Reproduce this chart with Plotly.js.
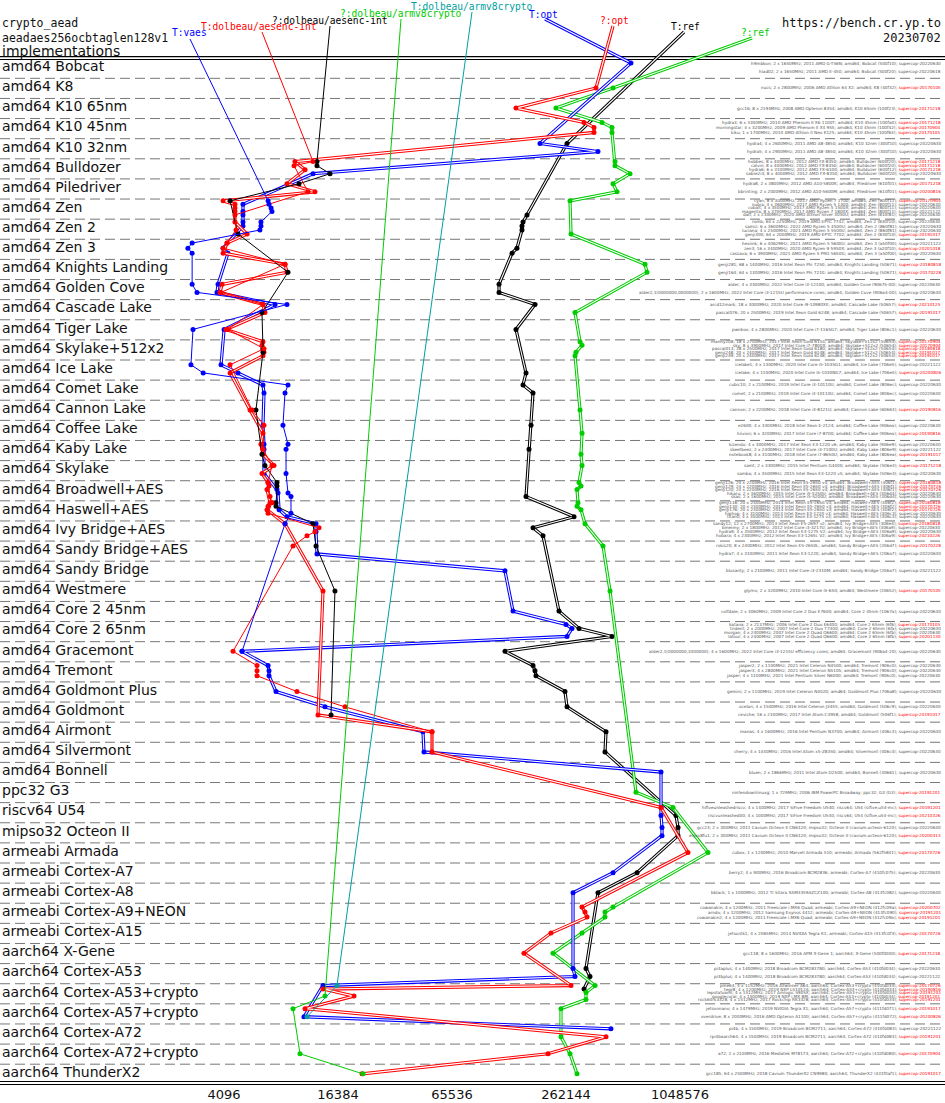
<!DOCTYPE html>
<html><head><meta charset="utf-8">
<script src="https://cdn.plot.ly/plotly-3.0.1.min.js"></script>
<style>html,body{margin:0;padding:0;background:#fff}#chart{width:945px;height:1103px}</style>
</head><body><div id="chart"></div>
<script>
// ---------------- data ----------------
const CATEGORIES = ["amd64 Bobcat","amd64 K8","amd64 K10 65nm","amd64 K10 45nm","amd64 K10 32nm","amd64 Bulldozer","amd64 Piledriver","amd64 Zen","amd64 Zen 2","amd64 Zen 3","amd64 Knights Landing","amd64 Golden Cove","amd64 Cascade Lake","amd64 Tiger Lake","amd64 Skylake+512x2","amd64 Ice Lake","amd64 Comet Lake","amd64 Cannon Lake","amd64 Coffee Lake","amd64 Kaby Lake","amd64 Skylake","amd64 Broadwell+AES","amd64 Haswell+AES","amd64 Ivy Bridge+AES","amd64 Sandy Bridge+AES","amd64 Sandy Bridge","amd64 Westmere","amd64 Core 2 45nm","amd64 Core 2 65nm","amd64 Gracemont","amd64 Tremont","amd64 Goldmont Plus","amd64 Goldmont","amd64 Airmont","amd64 Silvermont","amd64 Bonnell","ppc32 G3","riscv64 U54","mipso32 Octeon II","armeabi Armada","armeabi Cortex-A7","armeabi Cortex-A8","armeabi Cortex-A9+NEON","armeabi Cortex-A15","aarch64 X-Gene","aarch64 Cortex-A53","aarch64 Cortex-A53+crypto","aarch64 Cortex-A57+crypto","aarch64 Cortex-A72","aarch64 Cortex-A72+crypto","aarch64 ThunderX2"];

const MACHINE_COUNTS = [2,1,1,3,2,4,2,5,4,3, 2,2,2,1,5,2,2,1,2,3, 2,5,5,4,2,1,1,1,4,1, 3,1,2,1,1,1,1,2,2,1, 1,1,3,1,1,2,5,2,2,1, 1];

const MACHINE_LABELS = [
"h9mbkon; 2 x 1650MHz; 2011 AMD G-T56N; amd64; Bobcat (500f10); supercop-20220630",
"hiad02; 2 x 1650MHz; 2011 AMD E-450; amd64; Bobcat (500f20); supercop-20220618",
"nucs; 2 x 2800MHz; 2006 AMD Athlon 64 X2; amd64; K8 (40f32); supercop-20170105",
"gcc16; 8 x 2194MHz; 2008 AMD Opteron 8354; amd64; K10 65nm (100f23); supercop-20171218",
"hydra3; 6 x 3300MHz; 2010 AMD Phenom II X6 1100T; amd64; K10 45nm (100fa0); supercop-20171218",
"morningstar; 4 x 3200MHz; 2009 AMD Phenom II X4 955; amd64; K10 45nm (100f42); supercop-20170904",
"kiku; 1 x 1700MHz; 2010 AMD Athlon II Neo K125; amd64; K10 45nm (100f63); supercop-20170105",
"hydra4; 4 x 2600MHz; 2011 AMD A8-3850; amd64; K10 32nm (300f10); supercop-20220630",
"hydra5; 4 x 2900MHz; 2011 AMD A8-3850; amd64; K10 32nm (300f10); supercop-20220630",
"hobbes; 8 x 4000MHz; 2012 AMD FX-8350; amd64; Bulldozer (600f20); supercop-20171218",
"calvin; 8 x 4000MHz; 2012 AMD FX-8350; amd64; Bulldozer (600f20); supercop-20171218",
"hydra6; 6 x 3100MHz; 2012 AMD FX-6100; amd64; Bulldozer (600f12); supercop-20171218",
"sabre2i4; 8 x 4000MHz; 2012 AMD FX-8350; amd64; Bulldozer (600f20); supercop-20220630",
"hydra8; 2 x 3800MHz; 2012 AMD A10-5800K; amd64; Piledriver (610f01); supercop-20171218",
"bbrinting; 2 x 2000MHz; 2012 AMD A10-5600M; amd64; Piledriver (610f01); supercop-20200816",
"cyan; 8 x 3000MHz; 2017 AMD Ryzen 7 1700; amd64; Zen (800f11); supercop-20170904",
"nubia; 4 x 3600MHz; 2017 AMD Ryzen 5 1400; amd64; Zen (800f11); supercop-20220630",
"cobalt; 4 x 3500MHz; 2017 AMD Ryzen 5 1500X; amd64; Zen (800f11); supercop-20220630",
"magenta; 8 x 3700MHz; 2017 AMD Ryzen 7 1800X; amd64; Zen (800f11); supercop-20221122",
"dali; 2 x 2300MHz; 2020 AMD Athlon Silver 3050U; amd64; Zen (810f81); supercop-20220630",
"romb; 64 x 2250MHz; 2019 AMD EPYC 7742; amd64; Zen 2 (830f10); supercop-20220630",
"samiz; 6 x 3600MHz; 2022 AMD Ryzen 5 4500U; amd64; Zen 2 (860f81); supercop-20220630",
"luciana; 4 x 2500MHz; 2021 AMD Ryzen 5 5500U; amd64; Zen 2 (860f81); supercop-20220630",
"genji300; 64 x 2000MHz; 2019 AMD EPYC 7702; amd64; Zen 2 (830f10); supercop-20191017",
"hexiink; 6 x 4062MHz; 2021 AMD Ryzen 5 5600U; amd64; Zen 3 (a50f00); supercop-20221122",
"zen3; 16 x 3400MHz; 2020 AMD Ryzen 9 5950X; amd64; Zen 3 (a20f10); supercop-20201018",
"cassava; 6 x 3900MHz; 2021 AMD Ryzen 5 PRO 5650G; amd64; Zen 3 (a50f00); supercop-20220630",
"genji281; 68 x 1400MHz; 2016 Intel Xeon Phi 7250; amd64; Knights Landing (50671); supercop-20180818",
"genji164; 64 x 1300MHz; 2016 Intel Xeon Phi 7210; amd64; Knights Landing (50671); supercop-20170228",
"alder; 4 x 3300MHz; 2022 Intel Core i3-12100; amd64; Golden Cove (90675-00); supercop-20220630",
"alder2,1(0000000,0000000); 2 x 1600MHz; 2022 Intel Core i3-1215U performance cores; amd64; Golden Cove (906a4-00); supercop-20220630",
"arcd12mark; 18 x 3000MHz; 2020 Intel Core i9-10980XE; amd64; Cascade Lake (50657); supercop-20210125",
"pascal076; 20 x 2500MHz; 2019 Intel Xeon Gold 6248; amd64; Cascade Lake (50657); supercop-20191017",
"pwnbox; 4 x 2800MHz; 2020 Intel Core i7-1165G7; amd64; Tiger Lake (806c1); supercop-20220630",
"manny208; 18 x 2700MHz; 2017 Intel Xeon Gold 6154; amd64; Skylake+512x2 (50654); supercop-20170904",
"sky; 8 x 3900MHz; 2017 Intel Core i7-7800X; amd64; Skylake+512x2 (50654); supercop-20170904",
"pascal013; 28 x 2500MHz; 2017 Intel Xeon Gold 6180; amd64; Skylake+512x2 (50654); supercop-20180818",
"genji248; 20 x 2400MHz; 2017 Intel Xeon Gold 6148; amd64; Skylake+512x2 (50654); supercop-20191017",
"genji249; 20 x 2400MHz; 2017 Intel Xeon Gold 6148; amd64; Skylake+512x2 (50654); supercop-20191017",
"icelake1; 4 x 1300MHz; 2020 Intel Core i5-1035G1; amd64; Ice Lake (706e5); supercop-20221122",
"icelake; 4 x 1100MHz; 2020 Intel Core i5-1030NG7; amd64; Ice Lake (706e5); supercop-20200826",
"cubic10; 2 x 2100MHz; 2019 Intel Core i3-10110U; amd64; Comet Lake (806ec); supercop-20220630",
"comet; 2 x 2100MHz; 2019 Intel Core i3-10110U; amd64; Comet Lake (806ec); supercop-20220630",
"cannon; 2 x 2200MHz; 2018 Intel Core i3-8121U; amd64; Cannon Lake (60663); supercop-20190816",
"e2600; 4 x 3300MHz; 2018 Intel Xeon E-2124; amd64; Coffee Lake (906ea); supercop-20220630",
"hiivion; 6 x 3200MHz; 2017 Intel Core i7-8700; amd64; Coffee Lake (906ea); supercop-20190816",
"kizendo; 4 x 3000MHz; 2017 Intel Xeon E3-1220 v6; amd64; Kaby Lake (906e9); supercop-20220630",
"skeetbeez; 2 x 2400MHz; 2017 Intel Core i3-7100U; amd64; Kaby Lake (806e9); supercop-20221122",
"notebook8; 4 x 3100MHz; 2018 Intel Core i7-8650U; amd64; Kaby Lake (806ea); supercop-20191017",
"samt; 2 x 3300MHz; 2015 Intel Pentium G4400; amd64; Skylake (506e3); supercop-20171218",
"samba; 4 x 3500MHz; 2015 Intel Xeon E3-1220 v5; amd64; Skylake (506e3); supercop-20220630",
"genji126; 24 x 2200MHz; 2016 Intel Xeon E5-2650 v4; amd64; Broadwell+AES (406f1); supercop-20180818",
"genji129; 24 x 2200MHz; 2016 Intel Xeon E5-2650 v4; amd64; Broadwell+AES (406f1); supercop-20170726",
"genji120; 24 x 2200MHz; 2016 Intel Xeon E5-2650 v4; amd64; Broadwell+AES (406f1); supercop-20170726",
"hikaru; 2 x 1600MHz; 2015 Intel Core i5-5250U; amd64; Broadwell+AES (306d4); supercop-20220630",
"skas; 2 x 1600MHz; 2015 Intel Core i5-5200U; amd64; Broadwell+AES (306d4); supercop-20220630",
"genji116; 20 x 2300MHz; 2014 Intel Xeon E5-2650 v3; amd64; Haswell+AES (306f2); supercop-20180818",
"genji130; 20 x 2300MHz; 2014 Intel Xeon E5-2650 v3; amd64; Haswell+AES (306f2); supercop-20170726",
"genji176; 20 x 2300MHz; 2014 Intel Xeon E5-2650 v3; amd64; Haswell+AES (306f2); supercop-20170726",
"hiphop; 4 x 3100MHz; 2013 Intel Xeon E3-1220 v3; amd64; Haswell+AES (306c3); supercop-20220630",
"titan0; 4 x 3500MHz; 2013 Intel Xeon E3-1275 v3; amd64; Haswell+AES (306c3); supercop-20220630",
"sandy12; 12 x 2700MHz; 2013 Intel Xeon E5-2697 v2; amd64; Ivy Bridge+AES (306e4); supercop-20180818",
"bmeimy; 2 x 1800MHz; 2012 Intel Core i3-3217U; amd64; Ivy Bridge+AES (306a9); supercop-20220630",
"hydra9; 4 x 3500MHz; 2012 Intel Xeon E3-1275 V2; amd64; Ivy Bridge+AES (306a9); supercop-20220630",
"hobara; 4 x 2300MHz; 2012 Intel Xeon E3-1265L V2; amd64; Ivy Bridge+AES (306a9); supercop-20210226",
"rokis20; 8 x 2400MHz; 2012 Intel Xeon E5-2650L; amd64; Sandy Bridge+AES (206d7); supercop-20170228",
"hydra7; 4 x 3100MHz; 2011 Intel Xeon E3-1220; amd64; Sandy Bridge+AES (206a7); supercop-20220630",
"blusanty; 2 x 2100MHz; 2011 Intel Core i3-2310M; amd64; Sandy Bridge (206a7); supercop-20221122",
"glymo; 2 x 3200MHz; 2010 Intel Core i5-650; amd64; Westmere (20652); supercop-20170105",
"colfdale; 2 x 3060MHz; 2009 Intel Core 2 Duo E7600; amd64; Core 2 45nm (1067a); supercop-20220630",
"katana; 2 x 2137MHz; 2006 Intel Core 2 Duo E6400; amd64; Core 2 65nm (6f6); supercop-20170105",
"trident; 2 x 2000MHz; 2007 Intel Core 2 Duo T7300; amd64; Core 2 65nm (6fa); supercop-20220630",
"morgan; 4 x 2400MHz; 2007 Intel Core 2 Quad Q6600; amd64; Core 2 65nm (6fb); supercop-20220630",
"latour; 4 x 2400MHz; 2007 Intel Core 2 Quad Q6600; amd64; Core 2 65nm (6fb); supercop-20201130",
"alder2,1(0000000,3300000); 4 x 1600MHz; 2022 Intel Core i3-1215U efficiency cores; amd64; Gracemont (906a4-20); supercop-20220630",
"jasper2; 2 x 1100MHz; 2021 Intel Celeron N4500; amd64; Tremont (906c0); supercop-20220630",
"jasper3; 4 x 2800MHz; 2021 Intel Celeron N5105; amd64; Tremont (906c0); supercop-20220630",
"jasper; 4 x 1100MHz; 2021 Intel Pentium Silver N6000; amd64; Tremont (906c0); supercop-20220630",
"gemini; 2 x 1100MHz; 2019 Intel Celeron N4020; amd64; Goldmont Plus (706a8); supercop-20220630",
"ocelan; 4 x 1500MHz; 2016 Intel Celeron J3455; amd64; Goldmont (506c9); supercop-20220630",
"ceviche; 16 x 2100MHz; 2017 Intel Atom C3958; amd64; Goldmont (506f1); supercop-20191017",
"manas; 4 x 1600MHz; 2016 Intel Pentium N3700; amd64; Airmont (406c3); supercop-20220630",
"cherry; 4 x 1440MHz; 2016 Intel Atom x5-Z8350; amd64; Silvermont (406c4); supercop-20220630",
"bluen; 2 x 1866MHz; 2011 Intel Atom D2500; amd64; Bonnell (30661); supercop-20220630",
"nintendowiilinuxg; 1 x 729MHz; 2006 IBM PowerPC Broadway; ppc32; G3 (G3); supercop-20191201",
"hifiveunleashedriscv; 4 x 1400MHz; 2017 SiFive Freedom U540; riscv64; U54 (sifive,u54-mc); supercop-20191201",
"riscvunleashed00; 4 x 1000MHz; 2017 SiFive Freedom U540; riscv64; U54 (sifive,u54-mc); supercop-20210326",
"gcc23; 2 x 300MHz; 2011 Cavium Octeon II CN6120; mipso32; Octeon II (cavium,octeon-6120); supercop-20220630",
"erpro8fu1; 2 x 300MHz; 2011 Cavium Octeon II CN6120; mipso32; Octeon II (cavium,octeon-6120); supercop-20200313",
"cubox; 1 x 1200MHz; 2010 Marvell Armada 510; armeabi; Armada (562f5841); supercop-20170726",
"berry2; 4 x 900MHz; 2016 Broadcom BCM2836; armeabi; Cortex-A7 (410fc075); supercop-20220630",
"bblack; 1 x 1000MHz; 2012 TI Sitara XAM3359AZCZ100; armeabi; Cortex-A8 (413fc082); supercop-20220630",
"cowanakin; 4 x 1200MHz; 2011 Freescale i.MX6 Quad; armeabi; Cortex-A9+NEON (412fc09a); supercop-20200702",
"arndo; 4 x 1200MHz; 2012 Samsung Exynos 4412; armeabi; Cortex-A9+NEON (413fc090); supercop-20191201",
"cowanakin2; 4 x 1200MHz; 2011 Freescale i.MX6 Quad; armeabi; Cortex-A9+NEON (412fc09a); supercop-20191201",
"jetsontk1; 4 x 2065MHz; 2014 NVIDIA Tegra K1; armeabi; Cortex-A15 (413fc0f3); supercop-20170726",
"gcc118; 8 x 1600MHz; 2016 APM X-Gene 1; aarch64; X-Gene (500f0000); supercop-20171218",
"pi3aplus; 4 x 1400MHz; 2018 Broadcom BCM2837B0; aarch64; Cortex-A53 (410fd034); supercop-20220630",
"pi3bplus; 4 x 1400MHz; 2018 Broadcom BCM2837B0; aarch64; Cortex-A53 (410fd034); supercop-20221122",
"pine64; 4 x 1152MHz; 2016 Allwinner A64; aarch64; Cortex-A53+crypto (410fd034); supercop-20170726",
"tegr8; 4 x 1200MHz; 2019 NXP LS1012A; aarch64; Cortex-A53+crypto (410fd034); supercop-20190816",
"lepotatoaml; 4 x 1512MHz; 2017 Amlogic S905X; aarch64; Cortex-A53+crypto (410fd034); supercop-20191201",
"googlecoral; 4 x 1500MHz; 2019 NXP i.MX 8M; aarch64; Cortex-A53+crypto (410fd034); supercop-20191201",
"rock64rk3328; 4 x 1512MHz; 2017 Rockchip RK3328; aarch64; Cortex-A53+crypto (410fd034); supercop-20191201",
"jetsonnano; 4 x 1479MHz; 2019 NVIDIA Tegra X1; aarch64; Cortex-A57+crypto (411fd071); supercop-20191017",
"overdrive; 8 x 2000MHz; 2016 AMD Opteron A1100; aarch64; Cortex-A57+crypto (411fd072); supercop-20200826",
"pi4b; 4 x 1500MHz; 2019 Broadcom BCM2711; aarch64; Cortex-A72 (410fd083); supercop-20221122",
"rpi4baarch64; 4 x 1500MHz; 2019 Broadcom BCM2711; aarch64; Cortex-A72 (410fd083); supercop-20191201",
"a72; 2 x 2100MHz; 2016 Mediatek MT8173; aarch64; Cortex-A72+crypto (410fd080); supercop-20170904",
"gcc185; 64 x 2500MHz; 2018 Cavium ThunderX2 CN9980; aarch64; ThunderX2 (431f0af1); supercop-20191017"
];

// series: [machine index, cycles]
const T_REF = [[7,265400],[19,163200],[20,155400],[21,153500],[22,153500],[25,144400],[26,136000],[29,116100],[30,116100],[31,179800],[33,142700],[40,161200],[41,155400],[42,175500],[44,171300],[47,167200],[55,161200],[60,289000],[62,175500],[64,198200],[69,240700],[71,307000],[73,458600],[74,124800],[75,175500],[76,179800],[77,182000],[78,258900],[79,265400],[81,426400],[82,421100],[86,998900],[87,1023600],[88,1023600],[90,621700],[91,386700],[97,334300],[98,350900],[100,326300]];
const Q_REF = [[2,464400],[3,232100],[4,406200],[5,458600],[6,458600],[9,475800],[10,475800],[12,571000],[13,464400],[14,487400],[15,275200],[23,278600],[27,685200],[28,702000],[32,292500],[34,310900],[35,318500],[37,296000],[38,292500],[43,310900],[45,318500],[48,314600],[49,318500],[51,307000],[52,314600],[53,299700],[56,303400],[57,299700],[58,314600],[61,330200],[65,411100],[68,447700],[84,614000],[85,962900],[89,1473700],[92,464400],[93,421100],[94,421100],[95,318500],[96,223800],[99,373000],[101,334300],[103,334300],[104,246600],[107,246600],[108,275200],[109,299700]];
const T_OPT = [[0,577600],[7,191100],[8,386700],[12,12090],[16,5160],[18,5160],[19,5160],[20,5160],[21,5160],[25,4050],[26,4300],[29,3810],[30,3760],[31,7620],[33,4100],[39,3950],[40,4860],[41,6580],[42,6660],[44,6580],[46,6660],[47,6660],[50,6660],[53,7800],[54,7900],[58,8000],[60,8810],[61,12540],[63,12540],[66,12690],[67,124800],[69,137600],[70,262100],[71,282000],[73,265400],[74,5100],[75,7000],[76,7080],[77,7080],[78,7710],[79,13990],[81,46050],[82,46610],[83,832400],[85,832400],[86,832400],[87,842400],[88,842400],[90,464400],[91,285500],[97,285500],[98,292500],[99,13650],[105,10840],[106,452900]];
const Q_OPT = [[2,377500],[3,142700],[4,326300],[5,368500],[6,368500],[9,9710],[11,10970],[13,8810],[14,12380],[15,4050],[16,4680],[17,4680],[18,4680],[20,4680],[23,5420],[24,4250],[26,4050],[27,8600],[28,8810],[29,4000],[30,3900],[31,6580],[32,6740],[33,4200],[34,6580],[35,6500],[36,6580],[37,6660],[38,6580],[40,4410],[43,5620],[45,6580],[46,6420],[48,6580],[49,7520],[50,6500],[51,7000],[52,7080],[53,6910],[56,7170],[57,7000],[58,6910],[61,8600],[68,13650],[80,12850],[81,51390],[82,51390],[85,832400],[89,1155500],[92,318500],[93,330200],[94,338400],[95,218400],[96,157300],[99,278600],[100,13650],[102,19910],[104,10970],[107,426400],[108,210600],[109,21940]];
const T_DOLBEAU_AESENC = [[9,12090],[10,9600],[14,11380],[19,4680],[22,4740],[24,4250],[25,4050],[27,8600],[30,3950],[31,6580],[33,4300],[36,6660],[39,4410],[43,5760],[44,6660],[47,6580],[49,7340],[51,7000],[55,7170],[56,7340],[59,7000],[62,13010],[63,12380],[64,11240],[65,9480],[74,4570],[75,6120],[76,6120],[77,6120],[78,9950],[79,17840],[81,51390],[82,51390]];
const Q_DOLBEAU_AESENC = [[9,12690],[10,12690],[12,14870],[13,10200],[15,4410],[23,4860],[28,8920],[32,6500],[36,6580],[37,6580],[43,6040],[48,6500],[49,6740],[51,7800],[52,7800],[56,7710],[57,7710],[61,12090],[65,12540],[68,15790],[80,15050]];
const T_VAES = [[15,7000],[16,7080],[17,7260],[18,7340],[20,6420],[21,6420],[22,6340],[24,2780],[25,2640],[26,2780],[29,2780],[30,2950],[31,8810],[33,2810],[39,2740],[40,3180],[41,8920],[42,8600],[44,8390],[46,8920],[47,8710],[50,8710],[54,8920],[55,9250],[59,9250],[61,8600],[74,5100]];
const Q_DOLBEAU_ARMV8 = [[102,13990],[104,9480],[108,10320],[109,22210]];
const T_DOLBEAU_ARMV8 = [[99,16180],[105,11240]];

const X_TICKS = [4096,16384,65536,262144,1048576];
const X_TICK_LABELS = ["4096","16384","65536","262144","1048576"];

// ---------------- layout helpers ----------------
const W = 945, H = 1103, MB = 18, PH = H - MB;
const ROW_TOP = 58.2, ROW_H = 20.12;
function pxToY(p){ return (p - ROW_TOP) / ROW_H; }
function pxToX(p){ return 4096 * Math.pow(2, (p - 224) / 57); }

const machineY = [];
MACHINE_COUNTS.forEach((n, r) => {
  for (let j = 0; j < n; j++) {
    const f = n === 1 ? 0.48 : 0.44 + (j/(n-1) - 0.5) * Math.min(0.7, 0.3 + 0.1*(n-1));
    machineY.push(r + f);
  }
});

const SERIES = [
  {name:"T:ref", data:T_REF, color:"#000000", dbl:true, lab:[685,26], anc:[684,32]},
  {name:"?:ref", data:Q_REF, color:"#00cc00", dbl:true, lab:[755,32], anc:[752,38]},
  {name:"T:opt", data:T_OPT, color:"#0000ff", dbl:true, lab:[543,14], anc:[545,19]},
  {name:"?:opt", data:Q_OPT, color:"#ff0000", dbl:true, lab:[614,20], anc:[613,26]},
  {name:"?:dolbeau/aesenc-int", data:Q_DOLBEAU_AESENC, color:"#000000", dbl:false, lab:[330,20], anc:[330,26]},
  {name:"T:dolbeau/aesenc-int", data:T_DOLBEAU_AESENC, color:"#ff0000", dbl:false, lab:[259,26], anc:[262,32]},
  {name:"T:vaes", data:T_VAES, color:"#0000ff", dbl:false, lab:[189,32], anc:[190,39]},
  {name:"?:dolbeau/armv8crypto", data:Q_DOLBEAU_ARMV8, color:"#00cc00", dbl:false, lab:[401,13], anc:[401,19]},
  {name:"T:dolbeau/armv8crypto", data:T_DOLBEAU_ARMV8, color:"#00a0a0", dbl:false, lab:[472,6], anc:[472,12]}
];

const traces = [];
const annotations = [];
const MONO = "DejaVu Sans Mono", SANS = "DejaVu Sans";

SERIES.forEach(s => {
  const pts = s.data.slice().sort((a,b)=>a[0]-b[0]);
  const xs = pts.map(p=>p[1]), ys = pts.map(p=>machineY[p[0]]);
  const cx = [pxToX(s.anc[0]), xs[0]], cy = [pxToY(s.anc[1]), ys[0]];
  if (s.dbl) {
    traces.push({x:cx, y:cy, mode:"lines", line:{color:s.color, width:3.2}, hoverinfo:"skip"});
    traces.push({x:xs, y:ys, mode:"lines", line:{color:s.color, width:3.2}, hoverinfo:"skip"});
    traces.push({x:cx, y:cy, mode:"lines", line:{color:"#ffffff", width:1.1}, hoverinfo:"skip"});
    traces.push({x:xs, y:ys, mode:"lines", line:{color:"#ffffff", width:1.1}, hoverinfo:"skip"});
  } else {
    traces.push({x:cx, y:cy, mode:"lines", line:{color:s.color, width:1}, hoverinfo:"skip"});
    traces.push({x:xs, y:ys, mode:"lines", line:{color:s.color, width:1}, hoverinfo:"skip"});
  }
  traces.push({x:xs, y:ys, mode:"markers", marker:{color:s.color, size:5}, hoverinfo:"skip"});
  annotations.push({x:Math.log10(pxToX(s.lab[0])), y:pxToY(s.lab[1]), xref:"x", yref:"y", text:s.name, showarrow:false,
    xanchor:"center", yanchor:"middle", font:{family:MONO, size:9.6, color:s.color}});
});

// category labels
CATEGORIES.forEach((c, r) => {
  annotations.push({x:0, xref:"paper", y:r + 0.39, yref:"y", text:c, showarrow:false, xanchor:"left", yanchor:"middle",
    font:{family:SANS, size:14, color:"#111"}});
});

// machine labels
MACHINE_LABELS.forEach((t, i) => {
  const k = t.lastIndexOf("; ");
  const head = t.slice(0, k + 2), ver = t.slice(k + 2);
  const vcol = /2022/.test(ver) ? "#555" : "#ff0000";
  annotations.push({x:0.998, xref:"paper", y:machineY[i], yref:"y", showarrow:false, xanchor:"right", yanchor:"middle",
    text: head + '<span style="color:' + vcol + '">' + ver + '</span>', font:{family:SANS, size:4.2, color:"#555"}});
});

// header texts
annotations.push({x:0, xref:"paper", y:pxToY(23), yref:"y", text:"crypto_aead", showarrow:false, xanchor:"left", yanchor:"middle", font:{family:MONO, size:11.5, color:"#111"}});
annotations.push({x:0, xref:"paper", y:pxToY(38), yref:"y", text:"aeadaes256ocbtaglen128v1", showarrow:false, xanchor:"left", yanchor:"middle", font:{family:MONO, size:11.5, color:"#111"}});
annotations.push({x:0, xref:"paper", y:pxToY(50.5), yref:"y", text:"implementations", showarrow:false, xanchor:"left", yanchor:"middle", font:{family:SANS, size:14, color:"#111"}});
annotations.push({x:0.998, xref:"paper", y:pxToY(23), yref:"y", text:"https://bench.cr.yp.to", showarrow:false, xanchor:"right", yanchor:"middle", font:{family:MONO, size:12, color:"#111"}});
annotations.push({x:0.998, xref:"paper", y:pxToY(38), yref:"y", text:"20230702", showarrow:false, xanchor:"right", yanchor:"middle", font:{family:MONO, size:12, color:"#111"}});
annotations.push({x:0, xref:"paper", y:pxToY(1093), yref:"y", text:"Time", showarrow:false, xanchor:"left", yanchor:"middle", font:{family:SANS, size:14, color:"#111"}});

// shapes: double rules and dashed separators
const shapes = [];
[56.7, 59.5, 1081.5, 1084.5].forEach(p => shapes.push({type:"line", xref:"paper", yref:"y", x0:0, x1:1, y0:pxToY(p), y1:pxToY(p), line:{color:"#000", width:1.2}, layer:"below"}));
for (let r = 1; r < CATEGORIES.length; r++) {
  shapes.push({type:"line", xref:"paper", yref:"y", x0:0, x1:1, y0:r, y1:r, line:{color:"#777", width:1, dash:"10px,5px"}, layer:"below"});
}

const layout = {
  width: W, height: H,
  margin: {l:0, r:0, t:0, b:MB, pad:0},
  paper_bgcolor: "#fff", plot_bgcolor: "#fff",
  showlegend: false,
  xaxis: {type:"log", range:[Math.log10(pxToX(0)), Math.log10(pxToX(W))], showgrid:false, zeroline:false, showline:false,
    tickvals:X_TICKS, ticktext:X_TICK_LABELS, ticks:"", tickfont:{family:SANS, size:13, color:"#111"}, fixedrange:true},
  yaxis: {range:[pxToY(PH), pxToY(0)], visible:false, showgrid:false, zeroline:false, fixedrange:true},
  shapes: shapes,
  annotations: annotations
};

Plotly.newPlot("chart", traces, layout, {staticPlot:true, displayModeBar:false});
</script></body></html>
